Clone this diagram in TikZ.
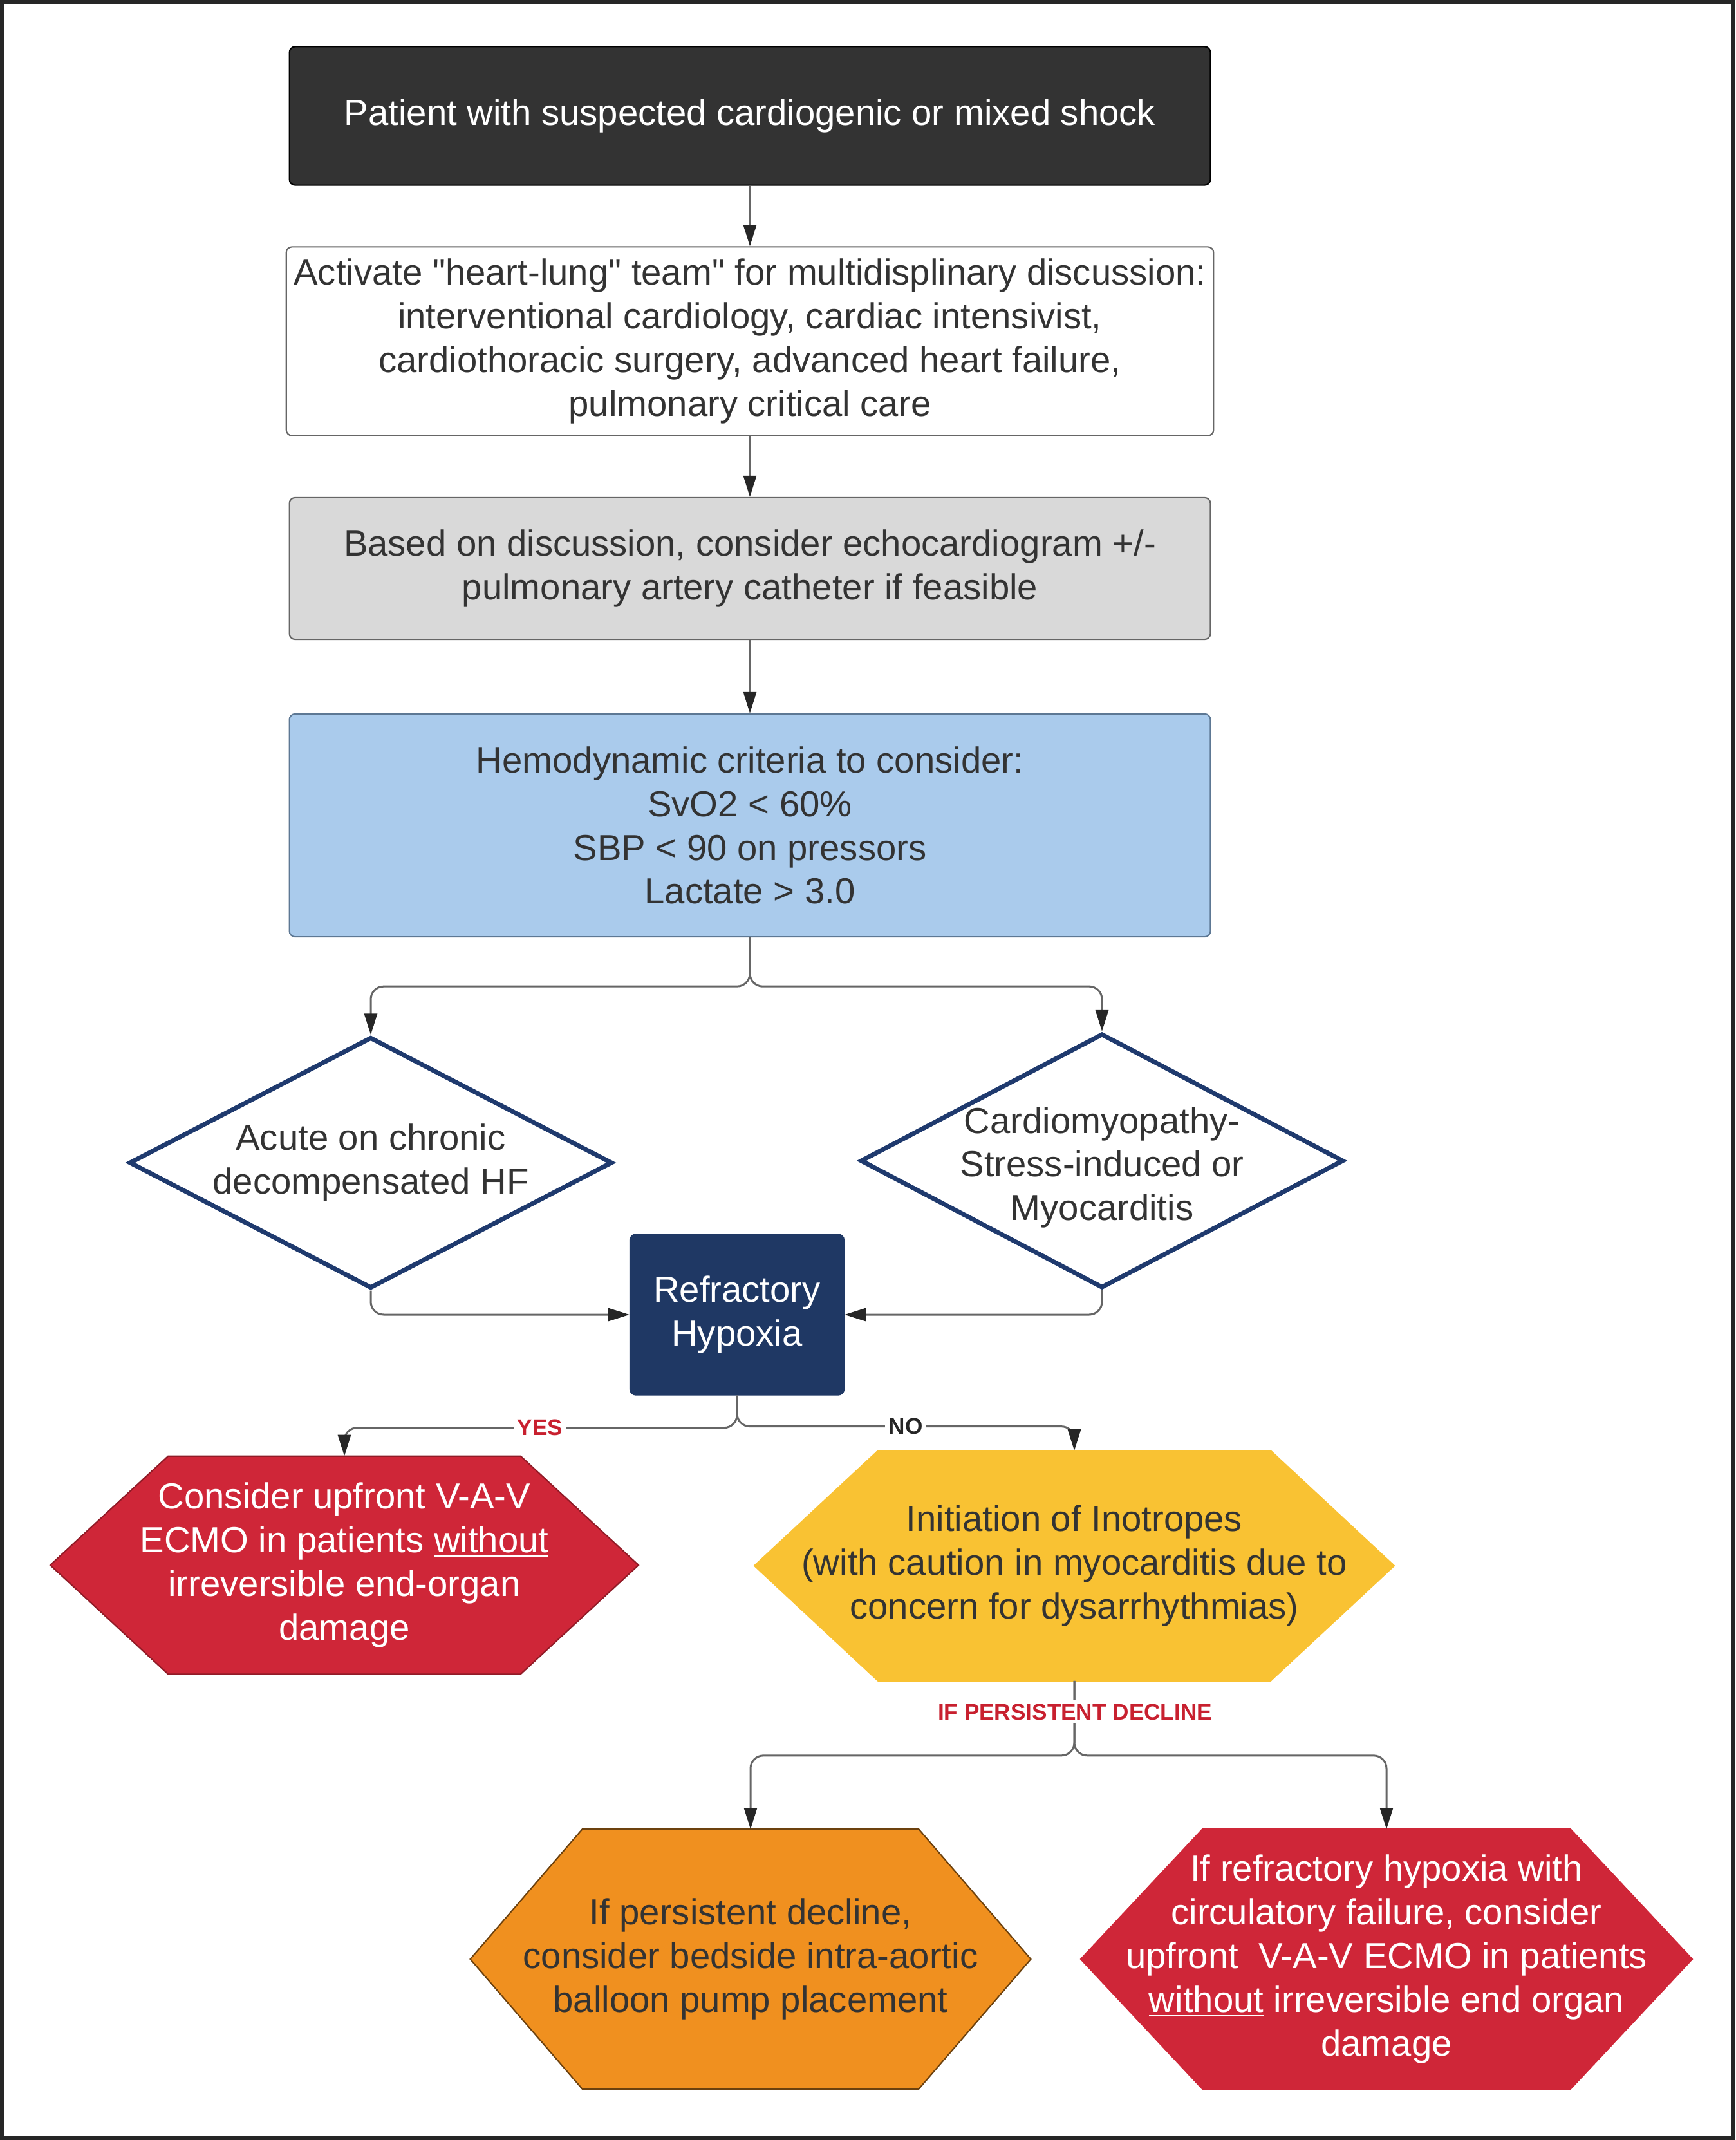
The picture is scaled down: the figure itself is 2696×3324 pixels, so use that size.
\documentclass[tikz,border=0pt]{standalone}
\usepackage{fontspec}
\setmainfont{Liberation Sans}[Ligatures=TeXOff]
\usetikzlibrary{shapes.geometric,arrows.meta,backgrounds}

\definecolor{darkfill}{HTML}{333333}
\definecolor{textgray}{HTML}{333333}
\definecolor{echogray}{HTML}{D9D9D9}
\definecolor{hemoblue}{HTML}{AACBEC}
\definecolor{hemoline}{HTML}{5D7894}
\definecolor{navyline}{HTML}{1F3A6E}
\definecolor{navyfill}{HTML}{1F3864}
\definecolor{redhex}{HTML}{CF2638}
\definecolor{yellowhex}{HTML}{F9C233}
\definecolor{orangehex}{HTML}{F0901F}
\definecolor{tagred}{HTML}{C8202F}
\definecolor{linegray}{HTML}{666666}

\tikzset{box/.style={draw=gray!80!black,line width=0.6pt,rounded corners=2.5pt,minimum width=14.3cm,
    align=center,text=textgray,font={\fontsize{16}{19.3}\selectfont}},
  decision/.style={diamond,aspect=1.93,draw=navyline,line width=0.07cm,fill=white,inner sep=-0.4cm,
    minimum width=7.5cm,minimum height=3.9cm,align=center,text=textgray,font={\fontsize{16}{19.3}\selectfont}},
  hexa/.style={inner sep=0pt,align=center,font={\fontsize{16}{19.3}\selectfont}},
  link/.style={draw=linegray,line width=0.03cm,rounded corners=0.2cm,
    -{Triangle[length=0.33cm,width=0.2cm,color=black!85]}},
  tag/.style={fill=white,inner sep=1.5pt,font={\fontsize{10}{12}\selectfont\bfseries}}}

\begin{document}
\begin{tikzpicture}[x=0.01cm,y=-0.01cm]
\useasboundingbox (0,0) rectangle (2696,3324);
\draw[line width=0.06cm,black!85] (3,3) rectangle (2693,3321);

\node[box,fill=darkfill,draw=black,text=white,minimum height=2.15cm] (shock) at (1165,180)
  {Patient with suspected cardiogenic or mixed shock};
\node[box,fill=white,minimum height=2.93cm] (team) at (1165,530)
  {Activate "heart-lung" team" for multidisplinary discussion:\\interventional cardiology, cardiac intensivist,\\cardiothoracic surgery, advanced heart failure,\\pulmonary critical care};
\node[box,fill=echogray,minimum height=2.2cm] (echo) at (1165,883)
  {Based on discussion, consider echocardiogram +/-\\pulmonary artery catheter if feasible};
\node[box,fill=hemoblue,draw=hemoline,minimum height=3.46cm] (hemo) at (1165,1282)
  {Hemodynamic criteria to consider:\\SvO2 < 60\%\\SBP < 90 on pressors\\Lactate > 3.0};

\node[decision] (diamL) at (576,1806) {Acute on chronic\\decompensated HF};
\node[decision,minimum height=3.95cm] (diamR) at (1712,1803) {\mbox{}\\[-1.8pt]Cardiomyopathy-\\Stress-induced or\\Myocarditis};
\node[box,fill=navyfill,draw=navyfill,text=white,minimum width=3.32cm,minimum height=2.49cm] (refr) at (1145,2042)
  {Refractory\\Hypoxia};

\node[hexa,text=white,minimum width=9.12cm,minimum height=3.37cm] (ecmoA) at (535,2431)
  {Consider upfront V-A-V\\ECMO in patients \underline{without}\\irreversible end-organ\\damage};
\node[hexa,text=textgray,minimum width=9.92cm,minimum height=3.56cm] (ino) at (1669,2432)
  {Initiation of Inotropes\\(with caution in myocarditis due to\\concern for dysarrhythmias)};
\node[hexa,text=textgray,minimum width=8.69cm,minimum height=4.02cm] (iabp) at (1166,3043)
  {If persistent decline,\\consider bedside intra-aortic\\balloon pump placement};
\node[hexa,text=white,minimum width=9.48cm,minimum height=4.02cm] (ecmoB) at (2154,3043)
  {If refractory hypoxia with\\circulatory failure, consider\\upfront~ V-A-V ECMO in patients\\\underline{without} irreversible end organ\\damage};

\begin{scope}[on background layer]
\foreach \n/\c/\o/\d in {ecmoA/redhex/redhex!70!black/1.83cm, ino/yellowhex/yellowhex/1.92cm,
    iabp/orangehex/orangehex!45!black/1.74cm, ecmoB/redhex/redhex/1.89cm}
  \filldraw[fill=\c,draw=\o,line width=0.6pt] (\n.west) -- ([xshift=\d]\n.north west) -- ([xshift=-\d]\n.north east)
    -- (\n.east) -- ([xshift=-\d]\n.south east) -- ([xshift=\d]\n.south west) -- cycle;
\end{scope}

\draw[link] (shock) -- (team);
\draw[link] (team) -- (echo);
\draw[link] (echo) -- (hemo);
\draw[link] (hemo.south) -- ++(0,76) -| (diamL.north);
\draw[link] (hemo.south) -- ++(0,76) -| (diamR.north);
\draw[link] (diamL.south) |- (refr.west);
\draw[link] (diamR.south) |- (refr.east);
\draw[link] (refr.south) -- ++(0,50) -| (ecmoA.north);
\draw[link] (refr.south) -- ++(0,48) -| (ino.north);
\draw[link] (ino.south) -- ++(0,116) -| (iabp.north);
\draw[link] (ino.south) -- ++(0,116) -| (ecmoB.north);

\node[tag,text=tagred] (yes) at (839,2217) {YES};
\node[tag,text=black!85] (no) at (1407,2215) {NO};
\node[tag,text=tagred] (persist) at (1670,2659) {IF PERSISTENT DECLINE};
\end{tikzpicture}
\end{document}
